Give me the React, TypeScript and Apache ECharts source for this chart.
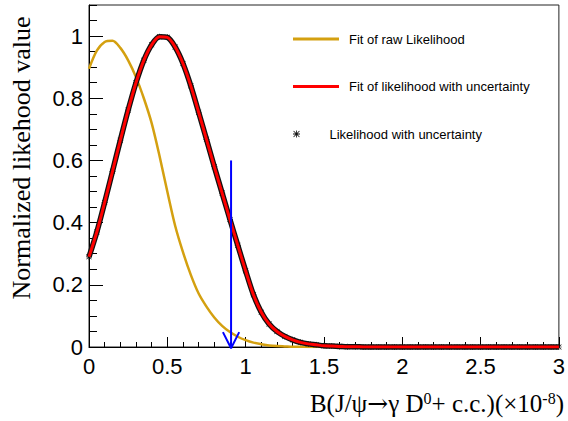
import React, { useEffect, useRef } from "react";
import * as echarts from "echarts";

const xValues = [
  0, 0.05, 0.1, 0.15, 0.2, 0.25, 0.3, 0.35, 0.4, 0.45,
  0.5, 0.55, 0.6, 0.65, 0.7, 0.75, 0.8, 0.85, 0.9, 0.95,
  1.0, 1.05, 1.1, 1.15, 1.2, 1.25, 1.3, 1.35, 1.4, 1.45,
  1.5, 1.55, 1.6, 1.65, 1.7, 1.75, 1.8, 1.85, 1.9, 1.95,
  2.0, 2.05, 2.1, 2.15, 2.2, 2.25, 2.3, 2.35, 2.4, 2.45,
  2.5, 2.55, 2.6, 2.65, 2.7, 2.75, 2.8, 2.85, 2.9, 2.95, 3.0,
];

const rawFit = [
  0.895, 0.953, 0.981, 0.985, 0.962, 0.922, 0.868, 0.8, 0.72, 0.615,
  0.5, 0.39, 0.305, 0.232, 0.172, 0.13, 0.095, 0.068, 0.048, 0.033,
  0.022, 0.014, 0.009, 0.005, 0.003, 0.002, 0.001, 0.001, 0, 0,
  0, 0, 0, 0, 0, 0, 0, 0, 0, 0,
  0, 0, 0, 0, 0, 0, 0, 0, 0, 0,
  0, 0, 0, 0, 0, 0, 0, 0, 0, 0, 0,
];

const uncertaintyFit = [
  0.29, 0.37, 0.465, 0.565, 0.665, 0.762, 0.85, 0.922, 0.972, 0.998,
  0.996, 0.965, 0.912, 0.84, 0.755, 0.668, 0.58, 0.495, 0.41, 0.327,
  0.245, 0.168, 0.112, 0.074, 0.05, 0.034, 0.023, 0.015, 0.01, 0.007,
  0.004, 0.003, 0.002, 0.001, 0.001, 0, 0, 0, 0, 0,
  0, 0, 0, 0, 0, 0, 0, 0, 0, 0,
  0, 0, 0, 0, 0, 0, 0, 0, 0, 0, 0,
];

const likelihoodPoints = [
  0.29, 0.37, 0.465, 0.565, 0.665, 0.762, 0.85, 0.922, 0.972, 0.998,
  0.996, 0.965, 0.912, 0.84, 0.755, 0.668, 0.58, 0.495, 0.41, 0.327,
  0.245, 0.168, 0.112, 0.074, 0.05, 0.034, 0.023, 0.015, 0.01, 0.007,
  0.004, 0.003, 0.002, 0.001, 0.001, 0, 0, 0, 0, 0,
  0, 0, 0, 0, 0, 0, 0, 0, 0, 0,
  0, 0, 0, 0, 0, 0, 0, 0, 0, 0, 0,
];

const arrowShaft = [
  [0.907, 0.6],
  [0.907, 0],
];
const arrowHead = [
  [0.855, 0.048],
  [0.907, -0.004],
  [0.959, 0.048],
];

const NAME_RAW = "Fit of raw Likelihood";
const NAME_FIT = "Fit of likelihood with uncertainty";
const NAME_PTS = "Likelihood with uncertainty";

const STAR =
  "path://M4.4 0 H5.6 V10 H4.4 Z M0 4.4 H10 V5.6 H0 Z M1.2 0.4 L9.6 8.8 L8.8 9.6 L0.4 1.2 Z M8.8 0.4 L9.6 1.2 L1.2 9.6 L0.4 8.8 Z";

const SANS = "'Liberation Sans', Arial, Helvetica, sans-serif";
const SERIF = "'Liberation Serif', 'Times New Roman', serif";

const YELLOW = "#d4a010";

export default function App() {
  const ref = useRef<HTMLDivElement>(null);

  useEffect(() => {
    document.body.style.margin = "0";
    if (!ref.current) return;
    const chart = echarts.init(ref.current, null, { renderer: "svg" });

    const pair = (ys: number[]) => xValues.map((x, i) => [x, ys[i]]);

    const legendBase = {
      left: 293,
      orient: "vertical",
      padding: 0,
      itemWidth: 46,
      selectedMode: false,
      textStyle: {
        fontSize: 13,
        color: "#000",
        fontFamily: SANS,
        padding: [0, 0, 0, 5],
      },
    };

    chart.setOption({
      animation: false,
      backgroundColor: "#fff",
      grid: {
        left: 89,
        top: 5,
        width: 473,
        height: 342,
        show: true,
        borderColor: "#222",
        borderWidth: 1,
        backgroundColor: "transparent",
      },
      legend: [
        {
          ...legendBase,
          top: 32.5,
          itemHeight: 3,
          data: [{ name: NAME_RAW, icon: "rect" }],
        },
        {
          ...legendBase,
          top: 80,
          itemHeight: 3,
          data: [{ name: NAME_FIT, icon: "rect" }],
        },
        {
          ...legendBase,
          top: 127.5,
          itemHeight: 7,
          data: [{ name: NAME_PTS, icon: STAR }],
        },
      ],
      xAxis: {
        type: "value",
        min: 0,
        max: 3,
        interval: 0.5,
        axisLine: { show: true, onZero: false, lineStyle: { color: "#000", width: 1 } },
        axisTick: { show: true, inside: true, length: 10, lineStyle: { color: "#000" } },
        minorTick: { show: true, splitNumber: 5, length: 5, lineStyle: { color: "#000" } },
        splitLine: { show: false },
        minorSplitLine: { show: false },
        axisLabel: {
          fontSize: 22,
          color: "#000",
          fontFamily: SANS,
          margin: 8,
        },
      },
      yAxis: [
        {
          type: "value",
          min: 0,
          max: 1.1,
          interval: 0.2,
          position: "left",
          axisLine: { show: true, onZero: false, lineStyle: { color: "#000", width: 1 } },
          axisTick: { show: true, inside: true, length: 14, lineStyle: { color: "#000" } },
          splitLine: { show: false },
          axisLabel: {
            fontSize: 22,
            color: "#000",
            fontFamily: SANS,
            margin: 6,
            showMaxLabel: false,
            formatter: (v: number) => (v > 1.05 ? "" : String(Math.round(v * 10) / 10)),
          },
        },
        {
          type: "value",
          min: 0,
          max: 1.1,
          interval: 0.05,
          position: "left",
          offset: 0,
          axisLine: { show: false },
          axisTick: { show: true, inside: true, length: 8, lineStyle: { color: "#000" } },
          splitLine: { show: false },
          axisLabel: { show: false },
        },
      ],
      series: [
        {
          name: NAME_RAW,
          type: "line",
          data: pair(rawFit),
          smooth: 0.3,
          symbol: "none",
          lineStyle: { color: YELLOW, width: 2.5 },
          itemStyle: { color: YELLOW },
          z: 2,
        },
        {
          name: NAME_PTS,
          type: "line",
          data: pair(likelihoodPoints),
          smooth: 0.3,
          symbol: STAR,
          symbolSize: 6,
          showSymbol: true,
          showAllSymbol: true,
          lineStyle: { color: "#111", width: 5.5 },
          itemStyle: { color: "#111" },
          clip: false,
          z: 3,
        },
        {
          name: NAME_FIT,
          type: "line",
          data: pair(uncertaintyFit),
          smooth: 0.3,
          symbol: "none",
          lineStyle: { color: "#ff0000", width: 3 },
          itemStyle: { color: "#ff0000" },
          z: 4,
        },
        {
          name: "arrow",
          type: "line",
          data: arrowShaft,
          symbol: "none",
          clip: false,
          silent: true,
          lineStyle: { color: "#0000ff", width: 2 },
          z: 5,
        },
        {
          name: "arrowhead",
          type: "line",
          data: arrowHead,
          symbol: "none",
          clip: false,
          silent: true,
          lineStyle: { color: "#0000ff", width: 2 },
          z: 5,
        },
      ],
      graphic: [
        {
          type: "text",
          x: 21,
          y: 158,
          rotation: Math.PI / 2,
          style: {
            text: "Normalized likehood value",
            font: `26px ${SERIF}`,
            fill: "#000",
            align: "center",
            verticalAlign: "middle",
          },
        },
        {
          type: "text",
          x: 564,
          y: 403,
          style: {
            text: "{a|B(J/ψ}{r|→}{a|γ D}{s|0}{a|+ c.c.)(×10}{s|-8}{a|)}",
            align: "right",
            verticalAlign: "middle",
            fill: "#000",
            rich: {
              a: { fontSize: 25, fontFamily: SERIF, fill: "#000", lineHeight: 26 },
              r: { fontSize: 25, fontFamily: "'DejaVu Serif', serif", fill: "#000", lineHeight: 26 },
              s: { fontSize: 16, fontFamily: SERIF, fill: "#000", lineHeight: 13, verticalAlign: "top" },
            },
          },
        },
      ],
    });

    return () => chart.dispose();
  }, []);

  return <div ref={ref} style={{ width: 568, height: 421 }} />;
}
